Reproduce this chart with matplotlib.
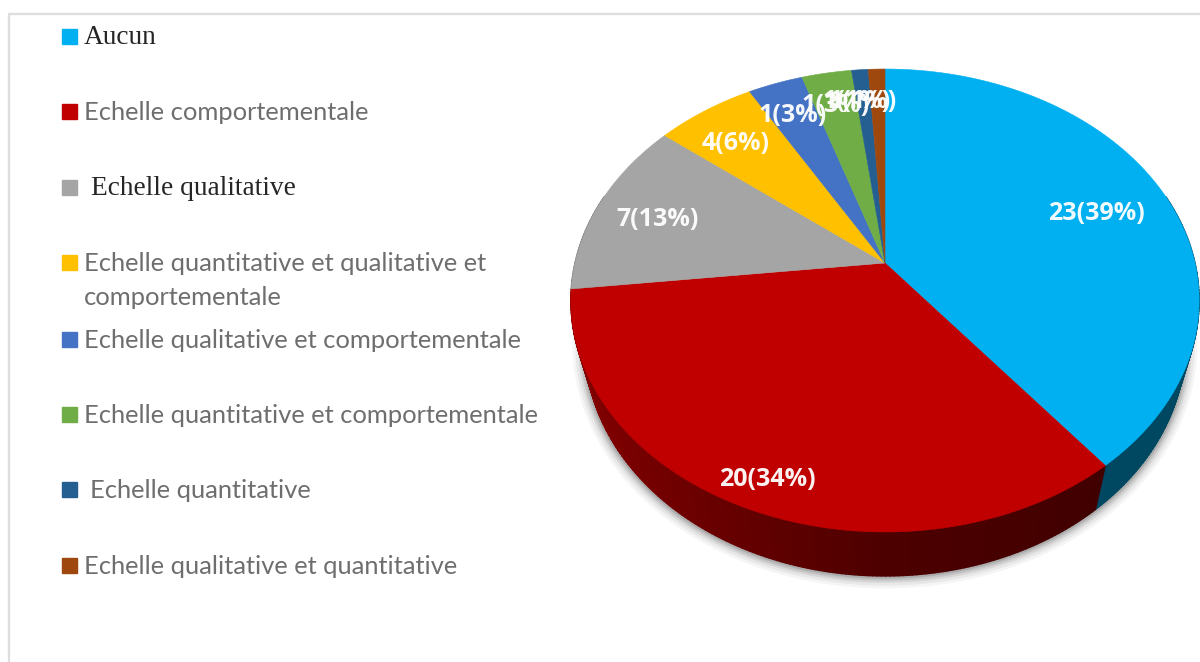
import numpy as np
import matplotlib
matplotlib.use("Agg")
import matplotlib.pyplot as plt
from matplotlib.collections import PolyCollection

categories = ["Aucun", "Echelle comportementale", "Echelle qualitative",
              "Echelle quantitative et qualitative et\ncomportementale",
              "Echelle qualitative et comportementale",
              "Echelle quantitative et comportementale",
              "Echelle quantitative", "Echelle qualitative et quantitative"]
counts = [23, 20, 7, 4, 1, 1, 1, 1]
percents = [39, 34, 13, 6, 3, 3, 1, 1]
# slice sizes (the labels are rounded)
shares = [39.35, 33.85, 12.5, 6.0, 3.3, 3.0, 1.0, 1.0]
colors = ["#00B0F0", "#C00000", "#A5A5A5", "#FFC000", "#4472C4", "#70AD47", "#255E91", "#9E480E"]

CX, CY, R, A, K = 885.0, 263.0, 310.0, 225.4, 0.162
DEPTH, SHRINK = 44.0, 0.955

def top(theta, r=1.0):
    s, c = r * np.sin(theta), r * np.cos(theta)
    w = 1 + K * c
    return CX + R * s / w, CY - A * c / w

def bottom(theta):
    x, y = top(theta)
    return CX + SHRINK * (x - CX), y + DEPTH

fig = plt.figure(figsize=(12, 6.62), dpi=100)
ax = fig.add_axes([0, 0, 1, 1])
ax.set_xlim(0, 1200)
ax.set_ylim(662, 0)
ax.axis("off")

# frame
ax.plot([8.5, 8.5, 1200], [662, 13.5, 13.5], color="#DEDEDE", lw=1.7, zorder=1)

# soft shadow under the pie
full = np.linspace(np.pi * 0.42, np.pi * 1.58, 200)
sx, sy = bottom(full)
for lw, al in zip([18, 14, 10, 7, 4], [0.04, 0.05, 0.07, 0.09, 0.12]):
    ax.plot(sx, sy, color="black", alpha=al, lw=lw, solid_capstyle="round", zorder=2)

fractions = np.array(shares, dtype=float) / sum(shares)
edges = np.concatenate([[0], np.cumsum(fractions)]) * 2 * np.pi

def shade(theta):
    # darkening of the side wall: lighter to the left, darker to the right
    xn = np.sin(theta)
    return 0.40 - 0.30 * xn if xn < 0 else 0.40 - 0.10 * xn

# side walls
quads, quad_colors = [], []
for i, col in enumerate(colors):
    a0, a1 = max(edges[i], np.pi * 0.40), min(edges[i + 1], np.pi * 1.60)
    if a1 <= a0:
        continue
    rgb = np.array(matplotlib.colors.to_rgb(col))
    ts = np.linspace(a0, a1, max(2, int((a1 - a0) * 80)))
    for t0, t1 in zip(ts[:-1], ts[1:]):
        xa, ya = top(t0); xb, yb = top(t1)
        xc, yc = bottom(t1); xd, yd = bottom(t0)
        quads.append([(xa, ya), (xb, yb), (xc, yc), (xd, yd)])
        f = 0.41 if i == 0 else shade((t0 + t1) / 2)
        quad_colors.append(tuple(rgb * f))
ax.add_collection(PolyCollection(quads, facecolors=quad_colors, edgecolors=quad_colors,
                                 linewidths=1.0, zorder=3))

# top faces
for i, col in enumerate(colors):
    ts = np.linspace(edges[i], edges[i + 1], 200)
    x, y = top(ts)
    ax.fill(np.r_[CX, x], np.r_[CY, y], facecolor=col, edgecolor=col, lw=0.4, zorder=4)

# slice labels
label_pos = [(1096, 213), (767, 479), (658, 220), (736, 143),
             (793, 115), (836, 105), (857, 102), (863, 102)]
for c, p, (lx, ly) in zip(counts, percents, label_pos):
    ax.text(lx, ly, f"{c}({p}%)", color="white", fontsize=18, fontweight="bold",
            family="Open Sans", ha="center", va="center", zorder=6, alpha=0.95)

# legend
legend_y = [36, 111, 187, 262, 339, 414, 489, 565]
swatch_x = [62, 62, 62, 62, 62, 62, 62, 62]
text_x = [84, 84, 91, 84, 84, 84, 90, 84]
for i, (name, col) in enumerate(zip(categories, colors)):
    y = legend_y[i]
    ax.fill([swatch_x[i], swatch_x[i] + 15, swatch_x[i] + 15, swatch_x[i]],
            [y - 7, y - 7, y + 8, y + 8], color=col, zorder=5)
    serif = i in (0, 2)
    lines = name.split("\n")
    for j, line in enumerate(lines):
        ax.text(text_x[i], y + 1.5 + j * 34, line,
                family="Liberation Serif" if serif else "Lato",
                fontsize=19.7 if serif else 18.35,
                color="#262626" if serif else "#6E6E6E",
                ha="left", va="center", zorder=5)

fig.savefig("out.png", dpi=100)
